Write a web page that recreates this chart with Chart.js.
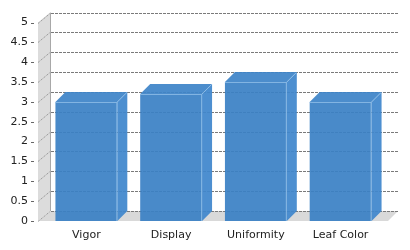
<!DOCTYPE html>
<html>
<head>
<meta charset="utf-8">
<script src="https://cdn.jsdelivr.net/npm/chart.js@4/dist/chart.umd.min.js"></script>
<style>
  html, body { margin: 0; padding: 0; background: #fff; }
  #wrap { width: 410px; height: 250px; position: relative; }
</style>
</head>
<body>
<div id="wrap"><canvas id="c" width="410" height="250"></canvas></div>
<script>
const categories = ["Vigor", "Display", "Uniformity", "Leaf Color"];
const scores = [3.0, 3.2, 3.5, 3.0];
const yMin = 0;
const yMax = 5;
const yStep = 0.5;

const DEPTH = 10;

const threeD = {
  id: 'threeD',
  beforeDatasetsDraw(chart) {
    const ctx = chart.ctx;
    const a = chart.chartArea;
    const ys = chart.scales.y;
    const wallFront = a.left - 6;
    const wallBack = wallFront + 12;
    const top = a.top, bot = a.bottom;
    const floorRight = a.right + 5;
    ctx.save();
    // left wall
    ctx.fillStyle = '#dcdcdc';
    ctx.beginPath();
    ctx.moveTo(wallFront, top);
    ctx.lineTo(wallBack, top - DEPTH);
    ctx.lineTo(wallBack, bot - DEPTH);
    ctx.lineTo(wallFront, bot);
    ctx.closePath();
    ctx.fill();
    // floor
    ctx.fillStyle = '#d9d9d9';
    ctx.beginPath();
    ctx.moveTo(wallFront, bot);
    ctx.lineTo(wallBack, bot - DEPTH);
    ctx.lineTo(floorRight + DEPTH, bot - DEPTH);
    ctx.lineTo(floorRight, bot);
    ctx.closePath();
    ctx.fill();
    // wall back edge
    ctx.strokeStyle = '#a8a8a8';
    ctx.lineWidth = 1;
    ctx.beginPath();
    ctx.moveTo(wallBack + 0.5, top - DEPTH);
    ctx.lineTo(wallBack + 0.5, bot - DEPTH);
    ctx.stroke();
    // gridlines and diagonals
    for (let v = yMin; v <= yMax + 1e-9; v += yStep) {
      const y = Math.round(ys.getPixelForValue(v));
      ctx.strokeStyle = '#7a7a7a';
      ctx.setLineDash([3, 1]);
      ctx.beginPath();
      ctx.moveTo(wallBack + 1, y - DEPTH + 0.5);
      ctx.lineTo(floorRight + DEPTH, y - DEPTH + 0.5);
      ctx.stroke();
      ctx.setLineDash([1, 1]);
      ctx.strokeStyle = '#8a8a8a';
      ctx.beginPath();
      ctx.moveTo(wallFront, y + 0.5);
      ctx.lineTo(wallBack, y - DEPTH + 0.5);
      ctx.stroke();
      ctx.setLineDash([]);
      ctx.strokeStyle = '#666';
      ctx.beginPath();
      ctx.moveTo(wallFront - 7, y + 0.5);
      ctx.lineTo(wallFront - 4, y + 0.5);
      ctx.stroke();
    }
    ctx.restore();
  },
  afterDatasetsDraw(chart) {
    const ctx = chart.ctx;
    const meta = chart.getDatasetMeta(0);
    ctx.save();
    meta.data.forEach(bar => {
      const p = bar.getProps(['x', 'y', 'base', 'width'], true);
      const x1 = p.x - p.width / 2, x2 = p.x + p.width / 2;
      const yt = p.y, yb = p.base;
      ctx.fillStyle = 'rgba(62,132,200,0.93)';
      // top face
      ctx.beginPath();
      ctx.moveTo(x1, yt);
      ctx.lineTo(x1 + DEPTH, yt - DEPTH);
      ctx.lineTo(x2 + DEPTH, yt - DEPTH);
      ctx.lineTo(x2, yt);
      ctx.closePath();
      ctx.fill();
      // side face
      ctx.fillStyle = 'rgba(64,134,204,0.93)';
      ctx.beginPath();
      ctx.moveTo(x2, yt);
      ctx.lineTo(x2 + DEPTH, yt - DEPTH);
      ctx.lineTo(x2 + DEPTH, yb - DEPTH);
      ctx.lineTo(x2, yb);
      ctx.closePath();
      ctx.fill();
      // light edges
      ctx.strokeStyle = 'rgba(150,195,235,0.75)';
      ctx.lineWidth = 1;
      ctx.beginPath();
      ctx.moveTo(x1, Math.round(yt) + 0.5);
      ctx.lineTo(x2 - 0.5, Math.round(yt) + 0.5);
      ctx.lineTo(x2 - 0.5, yb);
      ctx.moveTo(x2 - 0.5, Math.round(yt) + 0.5);
      ctx.lineTo(x2 + DEPTH - 0.5, yt - DEPTH + 0.5);
      ctx.stroke();
    });
    ctx.restore();
  }
};

new Chart(document.getElementById('c'), {
  type: 'bar',
  data: {
    labels: categories,
    datasets: [{
      data: scores,
      backgroundColor: 'rgba(58,128,196,0.92)',
      borderWidth: 0,
      barPercentage: 0.73,
      categoryPercentage: 1.0
    }]
  },
  options: {
    responsive: false,
    animation: false,
    devicePixelRatio: 1,
    layout: { padding: { left: 0, right: 27, top: 20, bottom: 0 } },
    plugins: { legend: { display: false }, tooltip: { enabled: false } },
    scales: {
      x: {
        grid: { display: false, drawTicks: false },
        border: { display: false },
        ticks: { font: { family: 'DejaVu Sans', size: 11 }, color: '#222', padding: 8, maxRotation: 0 },
        afterFit(s) { s.height = 29; }
      },
      y: {
        min: yMin, max: yMax,
        grid: { display: false, drawTicks: false },
        border: { display: false },
        ticks: {
          stepSize: yStep,
          font: { family: 'DejaVu Sans', size: 11 },
          color: '#222',
          padding: 16,
          callback: v => String(Math.round(v * 10) / 10)
        },
        afterFit(s) { s.width = 44; }
      }
    }
  },
  plugins: [threeD]
});
</script>
</body>
</html>
